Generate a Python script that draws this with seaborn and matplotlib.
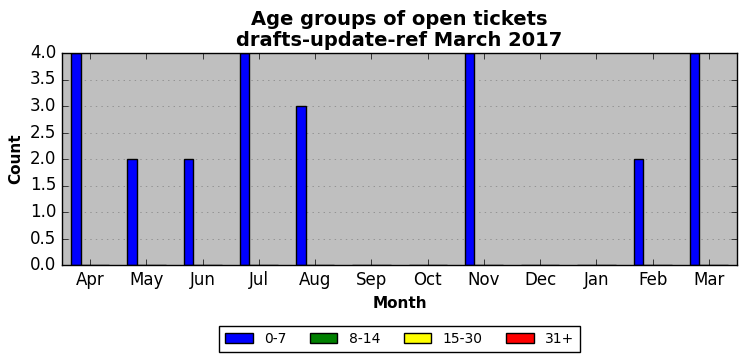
import pandas as pd
import matplotlib
matplotlib.use("Agg")
import matplotlib.pyplot as plt
import seaborn as sns

# data
months = ["Apr", "May", "Jun", "Jul", "Aug", "Sep", "Oct", "Nov", "Dec", "Jan", "Feb", "Mar"]
groups = ["0-7", "8-14", "15-30", "31+"]
age_0_7 = [4, 2, 2, 4, 3, 0, 0, 4, 0, 0, 2, 4]
age_8_14 = [0] * 12
age_15_30 = [0] * 12
age_31 = [0] * 12
colors = ["blue", "green", "yellow", "red"]

rows = []
for g, vals in zip(groups, [age_0_7, age_8_14, age_15_30, age_31]):
    for m, v in zip(months, vals):
        rows.append({"Month": m, "Group": g, "Count": v})
df = pd.DataFrame(rows)

plt.style.use("classic")
fig = plt.figure(figsize=(7.46, 3.61), dpi=100)
ax = fig.add_axes([62 / 746, 1 - 265 / 361, 675 / 746, 212 / 361])
ax.set_facecolor("#bfbfbf")

sns.barplot(data=df, x="Month", y="Count", hue="Group", order=months, hue_order=groups,
            palette=colors, saturation=1, width=0.68, edgecolor="black", linewidth=1,
            errorbar=None, ax=ax)

ax.set_xlim(-0.5, 11.5)
ax.set_ylim(0, 4)
ax.set_yticks([i * 0.5 for i in range(9)])
ax.set_yticklabels([f"{i * 0.5:.1f}" for i in range(9)])
ax.yaxis.grid(True, linestyle=":", color="gray")
ax.xaxis.grid(False)
ax.set_axisbelow(True)
ax.tick_params(labelsize=12)
ax.set_xlabel("Month", fontsize=11, fontweight="bold")
ax.set_ylabel("Count", fontsize=11, fontweight="bold")
ax.set_title("Age groups of open tickets\ndrafts-update-ref March 2017",
             fontsize=14, fontweight="bold", linespacing=1.15)

ax.legend(loc="upper center", bbox_to_anchor=(0.5, -0.29), ncol=4, fontsize=10,
          frameon=True, borderaxespad=0, handlelength=2.0, columnspacing=1.7,
          borderpad=0.4)

fig.savefig("out.png", dpi=100)
